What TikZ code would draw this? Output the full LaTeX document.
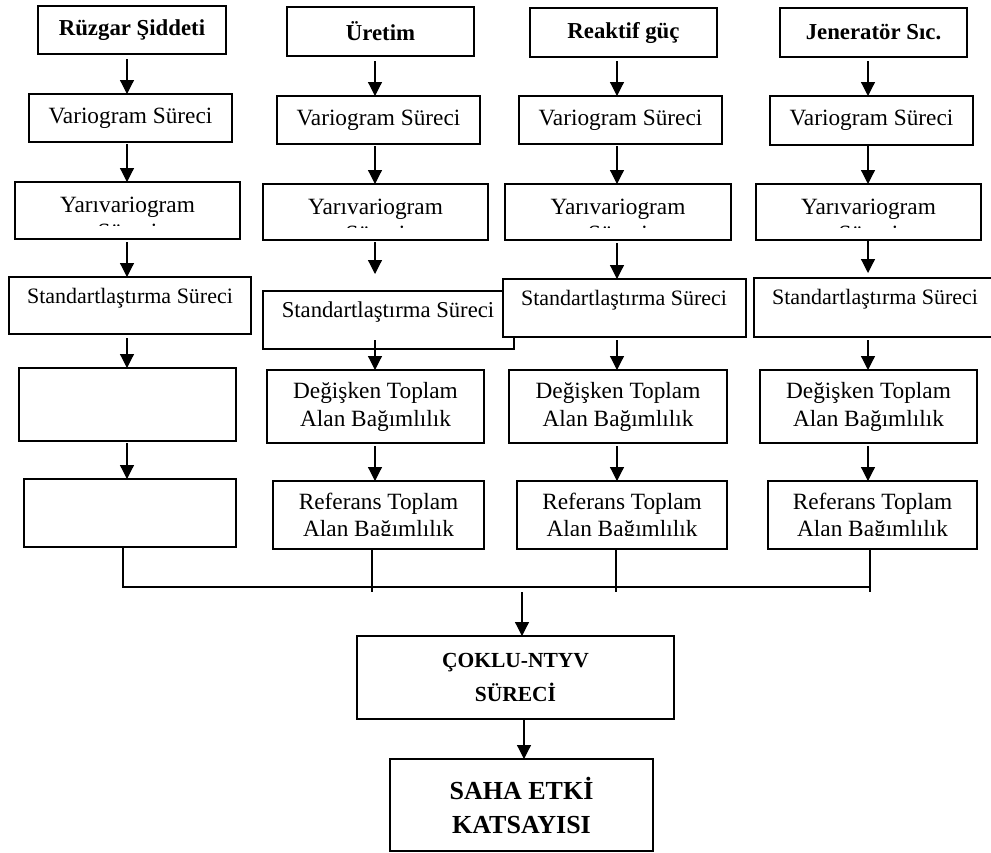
\documentclass[tikz,border=0pt]{standalone}
\usepackage{fontspec}
\setmainfont{Liberation Serif}
\usetikzlibrary{arrows.meta}
\tikzset{
  box/.style={draw=black, line width=1.3pt, fill=white, inner sep=0pt, outer sep=0pt, align=center},
  arr/.style={line width=1.2pt, -{Triangle[width=14pt,length=14pt]}},
  ln/.style={line width=1.2pt},
  txt/.style={inner sep=0pt, align=center, font=\fontsize{23.3}{27}\selectfont},
  stxt/.style={inner sep=0pt, align=center, font=\fontsize{22}{27}\selectfont},
  ttl/.style={font=\fontsize{22.8}{27}\selectfont\bfseries},
  reg/.style={font=\fontsize{23.3}{28}\selectfont},
}
\newcommand\mkbox[6][]{%
  \node[box,#1,minimum width={(#5-#3)*1pt},minimum height={(#6-#4)*1pt}] (#2) at ({(#3+#5)/2},{(#4+#6)/2}) {};}
\newcommand\mktbox[7][]{%
  \node[box,#1,minimum width={(#5-#3)*1pt},minimum height={(#6-#4)*1pt}] (#2) at ({(#3+#5)/2},{(#4+#6)/2}) {#7};}
\begin{document}
\begin{tikzpicture}[x=1pt,y=-1pt]
\useasboundingbox (0,0) rectangle (991,852);
% ---------- column 1 ----------
\mktbox[ttl]{T1}{38}{6}{226}{54}{Rüzgar Şiddeti}
\mktbox[reg]{V1}{29}{94}{232}{142}{Variogram Süreci}
\mkbox{Y1}{15}{182}{240}{239}
\begin{scope}\clip (15,182) rectangle (240,225);
\node[txt,anchor=north] (Y1t) at (127.5,197) {Yarıvariogram\\Süreci};
\end{scope}
\mkbox{S1}{9}{277}{251}{334}
\node[stxt] (S1t) at (130,298) {Standartlaştırma Süreci};
\mkbox{E1}{19}{368}{236}{441}
\mkbox{F1}{24}{479}{236}{547}
% ---------- column 2 ----------
\mktbox[ttl]{T2}{287}{7}{474}{56}{Üretim}
\mktbox[reg]{V2}{277}{96}{480}{144}{Variogram Süreci}
\mkbox{Y2}{263}{184}{488}{240}
\begin{scope}\clip (263,184) rectangle (488,227);
\node[txt,anchor=north] (Y2t) at (375.5,199) {Yarıvariogram\\Süreci};
\end{scope}
\mkbox{S2}{263}{291}{514}{349}
\node[stxt,font=\fontsize{22.7}{27}\selectfont] (S2t) at (388,312) {Standartlaştırma Süreci};
\mktbox[reg]{D2}{267}{370}{484}{443}{Değişken Toplam\\Alan Bağımlılık}
\mkbox{R2}{273}{481}{484}{549}
\begin{scope}\clip (273,481) rectangle (484,535.5);
\node[txt,anchor=north] (R2t) at (378.5,493) {Referans Toplam\\Alan Bağımlılık};
\end{scope}
% ---------- column 3 ----------
\mktbox[ttl]{T3}{530}{8}{717}{57}{Reaktif güç}
\mktbox[reg]{V3}{519}{96}{722}{144}{Variogram Süreci}
\mkbox{Y3}{505}{184}{731}{240}
\begin{scope}\clip (505,184) rectangle (731,227);
\node[txt,anchor=north] (Y3t) at (618,199) {Yarıvariogram\\Süreci};
\end{scope}
\mkbox{S3}{503}{279}{746}{337}
\node[stxt] (S3t) at (624,300) {Standartlaştırma Süreci};
\mktbox[reg]{D3}{509}{370}{727}{443}{Değişken Toplam\\Alan Bağımlılık}
\mkbox{R3}{517}{481}{727}{549}
\begin{scope}\clip (517,481) rectangle (727,535.5);
\node[txt,anchor=north] (R3t) at (622,493) {Referans Toplam\\Alan Bağımlılık};
\end{scope}
% ---------- column 4 ----------
\mktbox[ttl]{T4}{780}{8}{967}{57}{Jeneratör Sıc.}
\mktbox[reg]{V4}{770}{96}{973}{145}{Variogram Süreci}
\mkbox{Y4}{756}{184}{981}{240}
\begin{scope}\clip (756,184) rectangle (981,227);
\node[txt,anchor=north] (Y4t) at (868.5,199) {Yarıvariogram\\Süreci};
\end{scope}
\mkbox{S4}{754}{278}{1000}{337}
\node[stxt] (S4t) at (875,299) {Standartlaştırma Süreci};
\mktbox[reg]{D4}{760}{370}{977}{443}{Değişken Toplam\\Alan Bağımlılık}
\mkbox{R4}{768}{481}{977}{549}
\begin{scope}\clip (768,481) rectangle (977,535.5);
\node[txt,anchor=north] (R4t) at (872.5,493) {Referans Toplam\\Alan Bağımlılık};
\end{scope}
% ---------- bottom ----------
\mktbox[font=\fontsize{21.5}{34}\selectfont\bfseries]{C}{357}{636}{674}{719}{ÇOKLU-NTYV\\SÜRECİ}
\mktbox[font=\fontsize{26}{34}\selectfont\bfseries]{K}{390}{759}{653}{851}{SAHA ETKİ\\KATSAYISI}
% ---------- helper coordinates ----------
\coordinate (X1) at (127,0);
\coordinate (X2) at (375,0);
\coordinate (X3) at (617,0);
\coordinate (X4) at (868,0);
\coordinate (a2) at (375,274);
\coordinate (b2) at (375,340);
\coordinate (H1) at (123,587);
\coordinate (H2) at (372,587);
\coordinate (H3) at (616,587);
\coordinate (H4) at (870,587);
\coordinate (M) at (522,592);
% ---------- arrows col 1 ----------
\draw[arr,shorten <=5pt] (T1.south -| X1) -- (V1.north -| X1);
\draw[arr,shorten <=2pt] (V1.south -| X1) -- (Y1.north -| X1);
\draw[arr,shorten <=3pt] (Y1.south -| X1) -- (S1.north -| X1);
\draw[arr,shorten <=4pt] (S1.south -| X1) -- (E1.north -| X1);
\draw[arr,shorten <=2pt] (E1.south -| X1) -- (F1.north -| X1);
% ---------- arrows col 2 ----------
\draw[arr,shorten <=5pt] (T2.south -| X2) -- (V2.north -| X2);
\draw[arr,shorten <=2pt] (V2.south -| X2) -- (Y2.north -| X2);
\draw[arr,shorten <=2pt] (Y2.south -| X2) -- (a2);
\draw[arr] (b2) -- (D2.north -| X2);
\draw[arr,shorten <=3pt] (D2.south -| X2) -- (R2.north -| X2);
% ---------- arrows col 3 ----------
\draw[arr,shorten <=4pt] (T3.south -| X3) -- (V3.north -| X3);
\draw[arr,shorten <=2pt] (V3.south -| X3) -- (Y3.north -| X3);
\draw[arr,shorten <=3pt] (Y3.south -| X3) -- (S3.north -| X3);
\draw[arr,shorten <=3pt] (S3.south -| X3) -- (D3.north -| X3);
\draw[arr,shorten <=3pt] (D3.south -| X3) -- (R3.north -| X3);
% ---------- arrows col 4 ----------
\draw[arr,shorten <=4pt] (T4.south -| X4) -- (V4.north -| X4);
\draw[arr,shorten <=1pt] (V4.south -| X4) -- (Y4.north -| X4);
\draw[arr,shorten <=0pt] (Y4.south -| X4) -- ([yshift=5pt]S4.north -| X4);
\draw[arr,shorten <=3pt] (S4.south -| X4) -- (D4.north -| X4);
\draw[arr,shorten <=3pt] (D4.south -| X4) -- (R4.north -| X4);
% ---------- collector ----------
\draw[ln] (F1.south -| H1) -- (H1) -- (H4);
\draw[ln,shorten >=-5pt] (R2.south -| H2) -- (H2);
\draw[ln,shorten >=-5pt] (R3.south -| H3) -- (H3);
\draw[ln,shorten >=-5pt] (R4.south -| H4) -- (H4);
\draw[arr] (M) -- (C.north -| M);
\draw[arr] (C.south -| 524,0) -- (K.north -| 524,0);
\end{tikzpicture}
\end{document}
